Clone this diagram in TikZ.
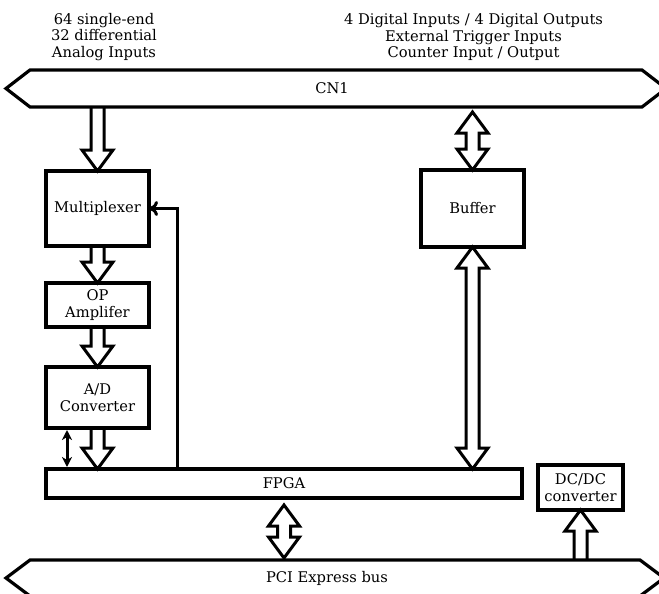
\documentclass[tikz,border=0pt]{standalone}
\usepackage{fontspec}
\setmainfont{DejaVu Serif}
\usetikzlibrary{calc,arrows.meta,backgrounds}
\def\HAsw{6.5pt}
\def\HAhw{15.5pt}
\def\HAhl{21pt}
\newcommand\hArrDown[2]{\draw[harrow] let \p1=(#1), \p2=(#2) in (\x2-\HAsw,\y1) -- (\x2-\HAsw,\y2+\HAhl) -- (\x2-\HAhw,\y2+\HAhl) -- (\x2,\y2) -- (\x2+\HAhw,\y2+\HAhl) -- (\x2+\HAsw,\y2+\HAhl) -- (\x2+\HAsw,\y1);}
\newcommand\hArrUp[2]{\draw[harrow] let \p1=(#1), \p2=(#2) in (\x2-\HAsw,\y1) -- (\x2-\HAsw,\y2-\HAhl) -- (\x2-\HAhw,\y2-\HAhl) -- (\x2,\y2) -- (\x2+\HAhw,\y2-\HAhl) -- (\x2+\HAsw,\y2-\HAhl) -- (\x2+\HAsw,\y1);}
\newcommand\hArrBoth[2]{\draw[harrow] let \p1=(#1), \p2=(#2) in (\x1,\y1) -- (\x1+\HAhw,\y1-\HAhl) -- (\x1+\HAsw,\y1-\HAhl) -- (\x1+\HAsw,\y2+\HAhl) -- (\x1+\HAhw,\y2+\HAhl) -- (\x1,\y2) -- (\x1-\HAhw,\y2+\HAhl) -- (\x1-\HAsw,\y2+\HAhl) -- (\x1-\HAsw,\y1-\HAhl) -- (\x1-\HAhw,\y1-\HAhl) -- cycle;}
\tikzset{
  box/.style={draw, line width=3.2pt, align=center, inner sep=0pt, outer sep=0pt},
  busarea/.style={inner sep=0pt, outer sep=0pt},
  busline/.style={draw, line width=3.2pt, line join=miter},
  harrow/.style={draw, line width=3pt, fill=white, line join=miter},
  fbline/.style={draw, line width=3pt, -{To[length=9pt,width=15pt,line width=3pt]}},
  dblline/.style={draw, line width=3pt, {Stealth[length=10pt,width=10pt,inset=3pt]}-{Stealth[length=10pt,width=10pt,inset=3pt]}},
  txt/.style={align=center, inner sep=0pt}
}
\begin{document}
\begin{tikzpicture}[x=1pt, y=-1pt, font=\fontsize{14.7}{16.5}\selectfont]
\useasboundingbox (0,0) rectangle (659,594);
\clip (0,0) rectangle (659,594);
% top labels
\node[txt] (ain) at (104,37) {64 single-end\\32 differential\\Analog Inputs};
\node[txt] (dio) at (473.5,37) {4 Digital Inputs / 4 Digital Outputs\\External Trigger Inputs\\Counter Input / Output};
% buses
\node[busarea, minimum width=612pt, minimum height=37pt] (cn1) at (336,88.5) {};
\draw[busline] (cn1.north west) -- (cn1.north east) -- ($(cn1.east)+(24,0)$) -- (cn1.south east) -- (cn1.south west) -- ($(cn1.west)+(-24,0)$) -- cycle;
\node[txt] (cn1lbl) at (332,88.5) {CN1};
\node[busarea, minimum width=610pt, minimum height=36pt] (pci) at (335,578) {};
\draw[busline] (pci.north west) -- (pci.north east) -- ($(pci.east)+(24,0)$) -- (pci.south east) -- (pci.south west) -- ($(pci.west)+(-24,0)$) -- cycle;
\node[txt] (pcilbl) at (327,578) {PCI Express bus};
% boxes
\node[box, minimum width=103pt, minimum height=75pt] (mux) at (97.5,208.5) {Multiplexer};
\node[box, minimum width=103pt, minimum height=44pt] (op) at (97.5,305) {OP\\Amplifer};
\node[box, minimum width=103pt, minimum height=61pt] (ad) at (97.5,397.5) {A/D\\Converter};
\node[box, minimum width=476pt, minimum height=29pt] (fpga) at (284,483.5) {FPGA};
\node[box, minimum width=103pt, minimum height=77pt] (buf) at (472.5,208.5) {Buffer};
\node[box, minimum width=85pt, minimum height=45pt] (dcdc) at (580.5,487.5) {DC/DC\\converter};
% connectors
\begin{pgfonlayer}{background}
\hArrDown{cn1.south -| mux.north}{mux.north}
\hArrDown{mux.south}{op.north}
\hArrDown{op.south}{ad.north}
\hArrDown{ad.south}{ad.south |- fpga.north}
\hArrBoth{$(buf.north |- cn1.south)+(0,5)$}{buf.north}
\hArrBoth{buf.south}{buf.south |- fpga.north}
\hArrBoth{$(fpga.south)+(0,7)$}{$(fpga.south |- pci.north)+(0,-2)$}
\hArrUp{pci.north -| dcdc.south}{dcdc.south}
\end{pgfonlayer}
\coordinate (fb) at ($(fpga.north west)+(131,0)$);
\draw[fbline] (fb) |- (mux.east);
\draw[dblline] ($(ad.south west)+(21,2)$) -- ($(ad.south west |- fpga.north)+(21,-2)$);
\end{tikzpicture}
\end{document}
